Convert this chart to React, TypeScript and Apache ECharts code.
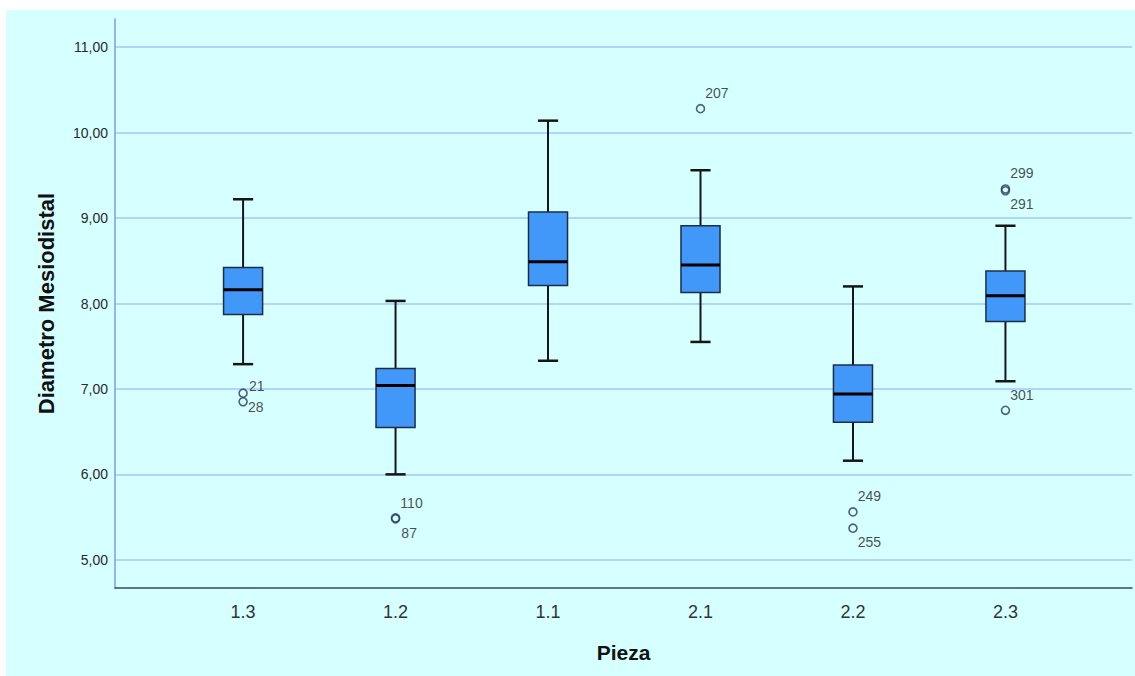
import React, { useEffect, useRef } from "react";
import * as echarts from "echarts";

// ---- data ----
const categories = ["1.3", "1.2", "1.1", "2.1", "2.2", "2.3"];
const whiskerLow = [7.29, 6.0, 7.33, 7.55, 6.16, 7.09];
const q1Values = [7.87, 6.55, 8.21, 8.13, 6.61, 7.79];
const medianValues = [8.16, 7.04, 8.49, 8.45, 6.94, 8.09];
const q3Values = [8.42, 7.24, 9.07, 8.91, 7.28, 8.38];
const whiskerHigh = [9.22, 8.03, 10.14, 9.56, 8.2, 8.91];

const outlierCategory = ["1.3", "1.3", "1.2", "1.2", "2.1", "2.2", "2.2", "2.3", "2.3", "2.3"];
const outlierValue = [6.95, 6.85, 5.49, 5.48, 10.28, 5.56, 5.37, 9.34, 9.32, 6.75];
const outlierId = ["21", "28", "110", "87", "207", "249", "255", "299", "291", "301"];

const yTicks = [5, 6, 7, 8, 9, 10, 11];

// label placement of outlier ids (style only)
const labelShift: Record<string, [number, number]> = {
  "21": [1, -7],
  "28": [0, 5],
  "110": [0, -15],
  "87": [1, 14],
  "207": [0, -16],
  "249": [0, -16],
  "255": [0, 14],
  "299": [0, -16],
  "291": [0, 13],
  "301": [0, -15],
};

const FONT = "'Liberation Sans', Arial, Helvetica, sans-serif";

export default function App() {
  const ref = useRef<HTMLDivElement>(null);

  useEffect(() => {
    if (!ref.current) return;
    const chart = echarts.init(ref.current, null, { renderer: "svg" });

    const boxData = categories.map((_, i) => [
      i + 1,
      whiskerLow[i],
      q1Values[i],
      medianValues[i],
      q3Values[i],
      whiskerHigh[i],
    ]);

    const outlierData = outlierValue.map((v, i) => ({
      value: [categories.indexOf(outlierCategory[i]) + 1, v],
      name: outlierId[i],
      label: {
        offset: labelShift[outlierId[i]] || [0, -15],
      },
    }));

    const option: any = {
      animation: false,
      backgroundColor: "#D6FFFF",
      textStyle: { fontFamily: FONT },
      grid: {
        left: 109,
        right: 3,
        top: 9,
        bottom: 88,
        containLabel: false,
        outerBoundsMode: "none",
      },
      xAxis: {
        type: "value",
        min: 0.16,
        max: 6.83,
        name: "Pieza",
        nameLocation: "middle",
        nameGap: 54,
        nameTextStyle: { fontFamily: FONT, fontWeight: "bold", fontSize: 21, color: "#111" },
        axisLine: { show: true, onZero: false, lineStyle: { color: "#3a4862", width: 1.5 } },
        axisTick: { show: false, customValues: categories.map((_, i) => i + 1) },
        axisLabel: {
          customValues: categories.map((_, i) => i + 1),
          formatter: (v: number) => categories[Math.round(v) - 1] ?? "",
          fontFamily: FONT,
          fontSize: 18,
          color: "#333",
          margin: 15,
        },
        splitLine: { show: false },
      },
      yAxis: {
        type: "value",
        min: 4.67,
        max: 11.33,
        name: "Diametro Mesiodistal",
        nameLocation: "middle",
        nameGap: 58,
        nameTextStyle: { fontFamily: FONT, fontWeight: "bold", fontSize: 22, color: "#111" },
        axisLine: { show: true, onZero: false, lineStyle: { color: "#7f9cdc", width: 1.5 } },
        axisTick: { show: false, customValues: yTicks },
        axisLabel: {
          customValues: yTicks,
          formatter: (v: number) => v.toFixed(2).replace(".", ","),
          fontFamily: FONT,
          fontSize: 14,
          color: "#2a2a2a",
          margin: 7,
        },
        splitLine: { show: true, lineStyle: { color: "#a9c6f5", width: 1.5 } },
      },
      series: [
        {
          type: "custom",
          z: 3,
          data: boxData,
          encode: { x: 0, y: [1, 2, 3, 4, 5] },
          renderItem: (params: any, api: any) => {
            const x = api.value(0);
            const lo = api.coord([x, api.value(1)]);
            const q1 = api.coord([x, api.value(2)]);
            const med = api.coord([x, api.value(3)]);
            const q3 = api.coord([x, api.value(4)]);
            const hi = api.coord([x, api.value(5)]);
            const cx = lo[0];
            const unit = api.size([1, 0])[0];
            const hb = unit * 0.128;
            const hc = unit * 0.066;
            const wStyle = { stroke: "#161616", lineWidth: 2 };
            const cStyle = { stroke: "#161616", lineWidth: 2.5 };
            return {
              type: "group",
              children: [
                { type: "line", shape: { x1: cx, y1: hi[1], x2: cx, y2: q3[1] }, style: wStyle },
                { type: "line", shape: { x1: cx, y1: q1[1], x2: cx, y2: lo[1] }, style: wStyle },
                { type: "line", shape: { x1: cx - hc, y1: hi[1], x2: cx + hc, y2: hi[1] }, style: cStyle },
                { type: "line", shape: { x1: cx - hc, y1: lo[1], x2: cx + hc, y2: lo[1] }, style: cStyle },
                {
                  type: "rect",
                  shape: { x: cx - hb, y: q3[1], width: hb * 2, height: q1[1] - q3[1] },
                  style: { fill: "#4198f8", stroke: "#1f2c48", lineWidth: 1.5 },
                },
                {
                  type: "line",
                  shape: { x1: cx - hb, y1: med[1], x2: cx + hb, y2: med[1] },
                  style: { stroke: "#000", lineWidth: 3 },
                },
              ],
            };
          },
        },
        {
          type: "scatter",
          z: 4,
          symbol: "circle",
          symbolSize: 8,
          itemStyle: { color: "rgba(0,0,0,0)", borderColor: "#2c3b5e", borderWidth: 1.6 },
          label: {
            show: true,
            position: "right",
            distance: 0,
            formatter: (p: any) => p.name,
            fontFamily: FONT,
            fontSize: 14,
            color: "#1e1e1e",
          },
          data: outlierData,
        },
      ],
    };

    chart.setOption(option);
    return () => chart.dispose();
  }, []);

  return (
    <div style={{ position: "absolute", left: 0, top: 0, width: 1135, height: 676, background: "#fff" }}>
      <div ref={ref} style={{ position: "absolute", left: 6, top: 10, width: 1129, height: 666 }} />
    </div>
  );
}
